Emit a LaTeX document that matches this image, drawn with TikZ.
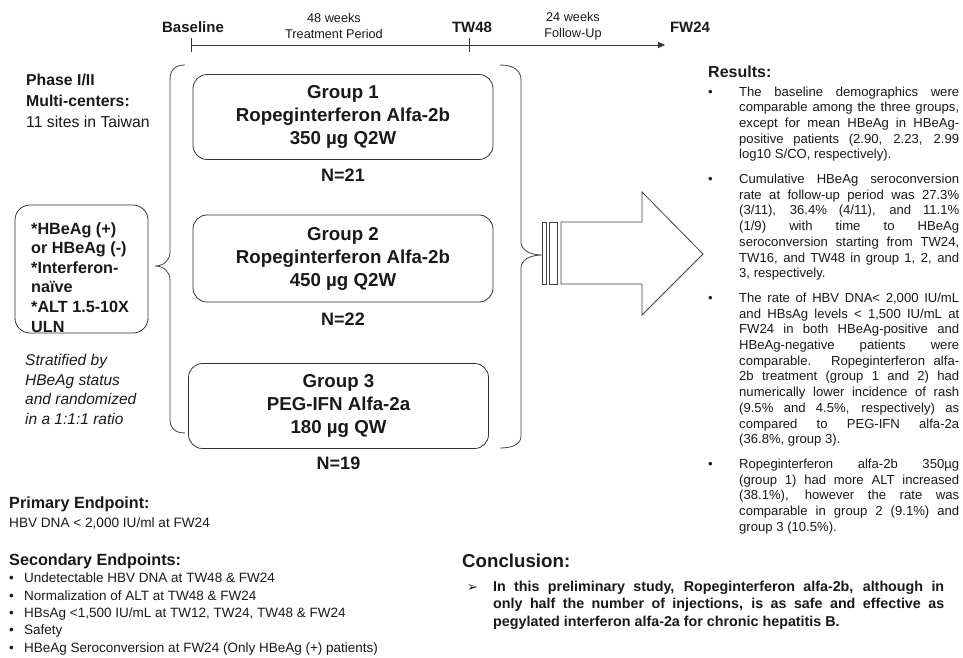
\documentclass[tikz,border=0pt]{standalone}
\usepackage{fontspec}
\setmainfont{Liberation Sans}
\newfontfamily\symfont{DejaVu Sans}
\usetikzlibrary{positioning,arrows.meta}

% one paragraph of the results column, with a hanging bullet
\newcommand{\resitem}[1]{\hangindent=31pt\hangafter=1\noindent\makebox[31pt][l]{\textbullet}#1\par\vspace{9pt}}
% one line of the secondary endpoints list
\newcommand{\epitem}[1]{\makebox[15pt][l]{\textbullet}#1}

\begin{document}
\begin{tikzpicture}[x=1pt,y=-1pt,
  every node/.style={inner sep=0pt, text=black!90},
  tline/.style={draw=black!80, line width=0.8pt},
  tmark/.style={font=\bfseries\fontsize{15}{17}\selectfont},
  tspan/.style={align=center, font=\fontsize{12.7}{16}\selectfont},
  grp/.style={draw=black!80, line width=0.8pt, rounded corners=14pt,
    minimum width=300pt, minimum height=85pt, align=center,
    font=\bfseries\fontsize{18.7}{23}\selectfont},
  nlab/.style={font=\bfseries\fontsize{18}{20}\selectfont},
  brc/.style={draw=black!75, line width=0.8pt},
  body/.style={anchor=base west, align=left}]
\useasboundingbox (0,0) rectangle (963,657);

% ====================
% Timeline: Baseline -- TW48 -- FW24
\coordinate (t0) at (191,45);
\coordinate (t48) at (469,45);
\coordinate (t72) at (665,45);
\draw[tline, -{Triangle[length=7pt,width=6pt]}] (t0) -- (t72);
\draw[tline] (t0) ++(0,-7) -- ++(0,14);
\draw[tline] (t48) ++(0,-7) -- ++(0,14);
\node[tmark] (base) at (193,27) {Baseline};
\node[tmark] (tw48) at (472,27) {TW48};
\node[tmark] (fw24) at (690,27) {FW24};
\node[tspan] (treat) at (334,26) {48 weeks\\Treatment Period};
\node[tspan] (follow) at (573,26) {24 weeks\\Follow-Up};

% ====================
% Study facts and inclusion criteria on the left
% (base of a multi-line node = its last line)
\node[body, font=\fontsize{15.8}{21}\selectfont] (phase) at (26,127.5)
  {\textbf{Phase I/II}\\\textbf{Multi-centers:}\\11 sites in Taiwan};
\node[draw=black!80, line width=0.8pt, rounded corners=15pt,
  minimum width=133pt, minimum height=128pt] (crit) at (81.5,269) {};
\node[body, font=\bfseries\fontsize{16.2}{19.6}\selectfont] (crittxt) at (31,332)
  {*HBeAg (+)\\or HBeAg (-)\\*Interferon-\\naïve\\*ALT 1.5-10X\\ULN};
\node[body, font=\itshape\fontsize{15.5}{19.7}\selectfont] (strat) at (25,424.5)
  {Stratified by\\HBeAg status\\and randomized\\in a 1:1:1 ratio};

% ====================
% Opening brace from the criteria box to the three groups
\draw[brc] (185,65) .. controls (175,65) and (170,70) .. (170,80) -- (170,252)
  .. controls (170,260) and (164,266) .. (155,266)
  .. controls (164,266) and (170,272) .. (170,280) -- (170,420)
  .. controls (170,428) and (175,433) .. (185,433);

% ====================
% Treatment groups
\node[grp] (g1) at (343,117) {Group 1\\Ropeginterferon Alfa-2b\\350 µg Q2W};
\node[nlab, below=9pt of g1] (n1) {N=21};
\node[grp, minimum height=87pt] (g2) at (343,258.5) {Group 2\\Ropeginterferon Alfa-2b\\450 µg Q2W};
\node[nlab, below=10pt of g2] (n2) {N=22};
\node[grp] (g3) at (338.5,406) {Group 3\\PEG-IFN Alfa-2a\\180 µg QW};
\node[nlab, below=8pt of g3] (n3) {N=19};

% ====================
% Closing brace and the striped arrow towards the results
\draw[brc] (500,65) .. controls (513,65) and (521,70) .. (521,80) -- (521,242)
  .. controls (521,250) and (530,255) .. (542,255)
  .. controls (530,255) and (521,260) .. (521,268) -- (521,436)
  .. controls (521,444) and (513,448) .. (500,448);
\draw[brc] (542,222) rectangle (546,284);
\draw[brc] (549,222) rectangle (557,284);
\draw[brc] (561,222) -- (642,222) -- (642,192) -- (703,254) -- (642,315)
  -- (642,284) -- (561,284) -- cycle;

% ====================
% Results column
\node[anchor=base west, font=\bfseries\fontsize{16}{18}\selectfont] (reshd) at (708,77.7) {Results:};
\node[anchor=base west, text width=251pt, align=justify,
  font=\fontsize{13.1}{15.7}\selectfont] (res) at (708,96)
  {\hyphenpenalty=10000 \tolerance=10000
  \resitem{The baseline demographics were\linebreak
    comparable among the three groups,\linebreak
    except for mean HBeAg in HBeAg-\linebreak
    positive patients (2.90, 2.23, 2.99\linebreak
    log10 S/CO, respectively).}
  \resitem{Cumulative HBeAg seroconversion\linebreak
    rate at follow-up period was 27.3\%\linebreak
    (3/11), 36.4\% (4/11), and 11.1\%\linebreak
    (1/9) with time to HBeAg\linebreak
    seroconversion starting from TW24,\linebreak
    TW16, and TW48 in group 1, 2, and\linebreak
    3, respectively.}
  \resitem{The rate of HBV DNA< 2,000 IU/mL\linebreak
    and HBsAg levels < 1,500 IU/mL at\linebreak
    FW24 in both HBeAg-positive and\linebreak
    HBeAg-negative patients were\linebreak
    comparable. Ropeginterferon alfa-\linebreak
    2b treatment (group 1 and 2) had\linebreak
    numerically lower incidence of rash\linebreak
    (9.5\% and 4.5\%, respectively) as\linebreak
    compared to PEG-IFN alfa-2a\linebreak
    (36.8\%, group 3).}
  \resitem{Ropeginterferon alfa-2b 350µg\linebreak
    (group 1) had more ALT increased\linebreak
    (38.1\%), however the rate was\linebreak
    comparable in group 2 (9.1\%) and\linebreak
    group 3 (10.5\%).}};

% ====================
% Endpoints
\node[body, font=\fontsize{13.6}{19}\selectfont] (prim) at (9,527)
  {{\bfseries\fontsize{16.2}{18}\selectfont Primary Endpoint:}\\HBV DNA < 2,000 IU/ml at FW24};
\node[body, font=\bfseries\fontsize{16.2}{18}\selectfont] (sechd) at (9,565.8) {Secondary Endpoints:};
\node[body, font=\fontsize{13.5}{17.3}\selectfont] (sec) at (9,652)
  {\epitem{Undetectable HBV DNA at TW48 \& FW24}\\
   \epitem{Normalization of ALT at TW48 \& FW24}\\
   \epitem{HBsAg <1,500 IU/mL at TW12, TW24, TW48 \& FW24}\\
   \epitem{Safety}\\
   \epitem{HBeAg Seroconversion at FW24 (Only HBeAg (+) patients)}};

% ====================
% Conclusion
\node[anchor=base west, font=\bfseries\fontsize{18.7}{20}\selectfont] (conhd) at (462,567.5) {Conclusion:};
\node[anchor=base west, text width=477pt, align=justify,
  font=\bfseries\fontsize{14.3}{17.5}\selectfont] (con) at (467,591)
  {\hyphenpenalty=10000 \tolerance=10000
  \hangindent=26pt\hangafter=1\noindent\makebox[26pt][l]{\symfont\mdseries\fontsize{13}{14}\selectfont ➢}In this preliminary study, Ropeginterferon alfa-2b, although in\linebreak
  only half the number of injections, is as safe and effective as\linebreak
  pegylated interferon alfa-2a for chronic hepatitis B.\par};

\end{tikzpicture}
\end{document}
